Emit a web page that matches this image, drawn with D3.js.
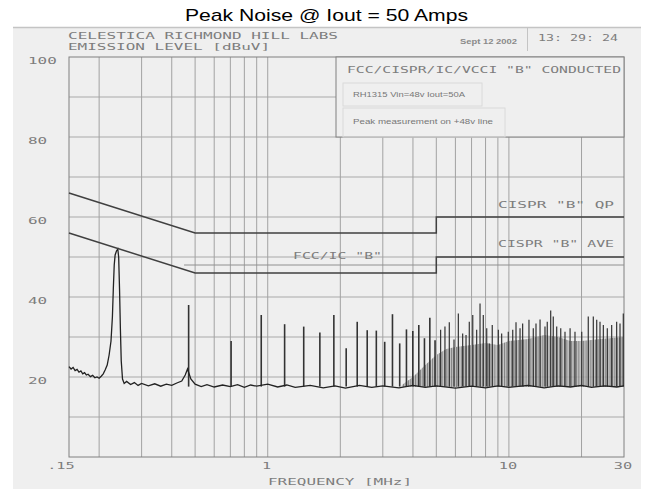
<!DOCTYPE html>
<html>
<head>
<meta charset="utf-8">
<script src="https://cdn.jsdelivr.net/npm/d3@7"></script>
<style>
  body { margin: 0; background: #fff; }
  svg { display: block; }
</style>
</head>
<body>
<div id="chart"></div>
<script>
// ---- data ----
var freqLabels = [".15", "1", "10", "30"];
var freqLabelAt = [0.15, 1, 10, 30];
var gridFreqs = [0.2, 0.3, 0.4, 0.5, 0.6, 0.7, 0.8, 0.9, 1, 2, 3, 4, 5, 6, 7, 8, 9, 10, 20];
var dbLabels = [100, 80, 60, 40, 20];
var gridDb = [10, 20, 30, 40, 50, 60, 70, 80, 90];

// CISPR "B" limits and FCC/IC "B"
var qpMHz = [0.15, 0.5, 5, 5, 30];
var qpDb = [66, 56, 56, 60, 60];
var aveMHz = [0.15, 0.5, 5, 5, 30];
var aveDb = [56, 46, 46, 50, 50];
var fccMHz = [0.45, 30];
var fccDb = [48, 48];

// measured trace: noise floor + fundamental at ~0.238 MHz
var traceMHz = [0.150, 0.153, 0.156, 0.159, 0.162, 0.165, 0.168, 0.171, 0.174, 0.177, 0.180, 0.184,
  0.188, 0.192, 0.196, 0.200, 0.204, 0.208, 0.212, 0.216, 0.220, 0.224, 0.227, 0.229, 0.231, 0.233,
  0.236, 0.239, 0.241, 0.243, 0.245, 0.247, 0.250, 0.254, 0.26, 0.27, 0.28, 0.29, 0.30, 0.32, 0.34,
  0.36, 0.38, 0.40, 0.42, 0.44, 0.455, 0.465, 0.48, 0.50, 0.53, 0.56, 0.60, 0.65, 0.70, 0.75, 0.80,
  0.85, 0.90, 1.0, 1.1, 1.2, 1.3, 1.5, 1.7, 1.9, 2.1, 2.4, 2.7, 3.0, 3.5, 4.0, 4.5, 5, 6, 7, 8, 9,
  10, 12, 14, 16, 18, 20, 22, 25, 28, 30];
var traceDb = [22.6, 22.0, 22.4, 21.6, 21.9, 21.2, 21.5, 20.8, 21.1, 20.5, 20.7, 20.1,
  20.4, 19.8, 20.0, 19.7, 20.2, 20.8, 21.8, 23.0, 25.5, 29.0, 35.0, 42.0, 48.0, 50.5,
  51.5, 52.0, 50.0, 42.0, 32.0, 24.0, 19.5, 18.4, 18.9, 18.1, 18.6, 17.9, 18.4, 17.8, 18.3,
  17.7, 18.2, 17.9, 18.5, 19.0, 20.5, 22.0, 19.5, 18.2, 17.6, 18.1, 17.5, 18.0, 17.6, 18.1, 17.4,
  18.0, 17.7, 18.2, 17.5, 18.0, 17.4, 17.9, 17.3, 17.8, 17.2, 17.9, 17.4, 17.8, 17.3, 17.9, 17.4, 17.8, 17.2, 17.7, 17.3, 17.8,
  17.4, 17.9, 17.3, 17.8, 17.5, 17.9, 17.4, 17.8, 17.5, 17.8];

// harmonic spikes
var spikeMHz = [0.47, 0.705, 0.94, 1.175, 1.41, 1.645, 1.88, 2.115, 2.35, 2.585, 2.82, 3.055, 3.29,
  3.525, 3.76, 3.995, 4.23, 4.465, 4.70, 4.94, 5.21, 5.43, 5.66, 5.92, 6.17, 6.43, 6.64, 6.85, 7.08,
  7.35, 7.59, 7.83, 8.09, 8.29, 8.53, 9.04, 9.33, 9.94, 10.37, 10.70, 11.12, 11.40, 12.11, 12.62,
  12.95, 13.46, 14.11, 14.42, 14.90, 15.27, 15.78, 16.40, 17.08, 17.93, 18.79, 20.04, 21.33, 22.38,
  23.12, 23.86, 24.63, 25.58, 26.67, 27.97, 28.88, 29.8];
var spikeDb = [38, 29, 35.5, 33.2, 32.6, 31.1, 35.5, 27.2, 33.8, 31.7, 31.6, 28.8, 35.7,
  28.4, 31.9, 31.5, 33, 29.7, 34.8, 29.2, 31.8, 32.6, 33.7, 29.4, 35.9, 30.9, 30.5, 33.8, 35.5,
  31.8, 38.4, 35.5, 32.2, 28.4, 33, 31.8, 30.9, 31.3, 31.8, 33.7, 32.2, 33.4, 34.3, 32.2,
  33.4, 34.4, 32.6, 33.8, 36.6, 35.1, 32.6, 32.2, 31.3, 32.2, 31.3, 31.3, 35.1, 35.1,
  34.3, 33.8, 33, 32.2, 33, 33.8, 33.4, 35.9];

// dense grey band of harmonics above ~4 MHz (upper edge)
var bandMHz = [3.6, 4, 4.5, 5, 5.5, 6, 7, 8, 9, 10, 12, 14, 16, 18, 20, 24, 30];
var bandDb = [18, 20, 23, 25.5, 27, 27.5, 28, 28.5, 28, 29, 29.5, 30.5, 30, 29, 29, 29.5, 30];
var bandFloorDb = 17.5;

// ---- layout ----
var W = 645, H = 489;
var plot = { left: 69, right: 624, top: 57, bottom: 457 };
var mono = "'DejaVu Sans Mono', 'Liberation Mono', monospace";
var ink = "#7d7d7d";

var svg = d3.select("#chart").append("svg")
  .attr("width", W).attr("height", H);

// stippled texture for the dense harmonics
var pat = svg.append("defs").append("pattern").attr("id", "dense")
  .attr("width", 2.4).attr("height", 4).attr("patternUnits", "userSpaceOnUse");
pat.append("rect").attr("width", 2.4).attr("height", 4).attr("fill", "#c2c2c2");
pat.append("rect").attr("width", 1).attr("height", 4).attr("fill", "#6a6a6a");

var x = d3.scaleLog().domain([0.15, 30]).range([plot.left, plot.right]);
var y = d3.scaleLinear().domain([0, 100]).range([plot.bottom, plot.top]);

// scanned paper
svg.append("rect").attr("x", 13).attr("y", 27).attr("width", 628).attr("height", H - 27)
  .attr("fill", "#efefef");
svg.append("line").attr("x1", 13).attr("x2", 641).attr("y1", 27.5).attr("y2", 27.5)
  .attr("stroke", "#c4c4c4").attr("stroke-width", 1.5);
svg.append("line").attr("x1", 527.5).attr("x2", 527.5).attr("y1", 28).attr("y2", 51)
  .attr("stroke", "#c4c4c4");

// title
svg.append("text").attr("x", 185).attr("y", 20.5)
  .attr("textLength", 283).attr("lengthAdjust", "spacingAndGlyphs")
  .style("font-family", "'Liberation Sans', Arial, sans-serif").style("font-size", "17px")
  .attr("fill", "#000").text("Peak Noise @ Iout = 50 Amps");

// header block
function monoText(tx, ty, str, len, size) {
  return svg.append("text").attr("x", tx).attr("y", ty)
    .attr("textLength", len).attr("lengthAdjust", "spacingAndGlyphs")
    .style("font-family", mono).style("font-size", (size || 9.5) + "px")
    .attr("fill", ink).text(str);
}
monoText(68, 38.5, "CELESTICA RICHMOND HILL LABS", 270);
monoText(68, 50, "EMISSION LEVEL [dBuV]", 202);
svg.append("text").attr("x", 460).attr("y", 43.5)
  .attr("textLength", 57).attr("lengthAdjust", "spacingAndGlyphs")
  .style("font-family", "'Liberation Sans', Arial, sans-serif").style("font-size", "7px")
  .style("font-weight", "bold").attr("fill", "#8a8a8a").text("Sept 12 2002");
monoText(538, 40.5, "13: 29: 24", 80);

// grid
var g = svg.append("g");
g.selectAll(".vg").data(gridFreqs).enter().append("line")
  .attr("x1", function (d) { return x(d); }).attr("x2", function (d) { return x(d); })
  .attr("y1", plot.top).attr("y2", plot.bottom)
  .attr("stroke", "#9a9a9a").attr("stroke-width", 0.9);
g.selectAll(".hg").data(gridDb).enter().append("line")
  .attr("x1", plot.left).attr("x2", plot.right)
  .attr("y1", function (d) { return y(d); }).attr("y2", function (d) { return y(d); })
  .attr("stroke", "#a2a2a2").attr("stroke-width", 0.9);
g.append("rect").attr("x", plot.left).attr("y", plot.top)
  .attr("width", plot.right - plot.left).attr("height", plot.bottom - plot.top)
  .attr("fill", "none").attr("stroke", "#808080").attr("stroke-width", 1);

// axis labels
svg.selectAll(".yl").data(dbLabels).enter().append("text")
  .attr("x", 28).attr("y", function (d) { return y(d) + 7; })
  .attr("textLength", function (d) { return String(d).length * 9.6; })
  .attr("lengthAdjust", "spacingAndGlyphs")
  .style("font-family", mono).style("font-size", "9.5px").attr("fill", ink)
  .text(function (d) { return d; });
svg.selectAll(".xl").data(freqLabelAt).enter().append("text")
  .attr("x", function (d, i) { return x(d) - (i === 0 ? 8 : 1); })
  .attr("y", 468.5).attr("text-anchor", "middle")
  .attr("textLength", function (d, i) { return freqLabels[i].length * 9.2; })
  .attr("lengthAdjust", "spacingAndGlyphs")
  .style("font-family", mono).style("font-size", "9.5px").attr("fill", ink)
  .text(function (d, i) { return freqLabels[i]; });
monoText(268, 485, "FREQUENCY [MHz]", 144);

// dense band
var band = bandMHz.map(function (f, i) { return [f, bandDb[i]]; });
svg.append("path").datum(band)
  .attr("d", d3.area()
    .x(function (d) { return x(d[0]); })
    .y0(y(bandFloorDb))
    .y1(function (d) { return y(d[1]); }))
  .attr("fill", "url(#dense)").attr("opacity", 0.85);

// harmonic spikes
svg.selectAll(".sp").data(spikeMHz).enter().append("line")
  .attr("x1", function (d) { return x(d); }).attr("x2", function (d) { return x(d); })
  .attr("y1", y(17.6)).attr("y2", function (d, i) { return y(spikeDb[i]); })
  .attr("stroke", "#333")
  .attr("stroke-width", function (d) { return d < 5 ? 1.6 : 1.2; });

// trace
var trace = traceMHz.map(function (f, i) { return [f, traceDb[i]]; });
svg.append("path").datum(trace)
  .attr("d", d3.line().x(function (d) { return x(d[0]); }).y(function (d) { return y(d[1]); }))
  .attr("fill", "none").attr("stroke", "#222").attr("stroke-width", 1.3);

// limit lines
function limit(fs, ds, w, col) {
  var pts = fs.map(function (f, i) { return [f, ds[i]]; });
  svg.append("path").datum(pts)
    .attr("d", d3.line().x(function (d) { return x(d[0]); }).y(function (d) { return y(d[1]); }))
    .attr("fill", "none").attr("stroke", col).attr("stroke-width", w);
}
limit(fccMHz, fccDb, 1, "#909090");
limit(qpMHz, qpDb, 1.5, "#404040");
limit(aveMHz, aveDb, 1.5, "#404040");

monoText(498, 208, "CISPR \"B\" QP", 116, 9);
monoText(498, 247, "CISPR \"B\" AVE", 116, 9);
monoText(293, 259, "FCC/IC \"B\"", 89, 9);

// annotation box (covers grid)
svg.append("rect").attr("x", 336).attr("y", plot.top)
  .attr("width", plot.right - 336).attr("height", y(80) - plot.top)
  .attr("fill", "#efefef").attr("stroke", "#808080").attr("stroke-width", 1);
svg.append("rect").attr("x", 343).attr("y", 83).attr("width", 139).attr("height", 23)
  .attr("fill", "none").attr("stroke", "#dadada");
svg.append("rect").attr("x", 343).attr("y", 108).attr("width", 162).attr("height", 29)
  .attr("fill", "none").attr("stroke", "#dadada");
monoText(347, 73, "FCC/CISPR/IC/VCCI \"B\" CONDUCTED", 274);
svg.append("text").attr("x", 353).attr("y", 97)
  .attr("textLength", 112).attr("lengthAdjust", "spacingAndGlyphs")
  .style("font-family", "'Liberation Sans', Arial, sans-serif").style("font-size", "7px")
  .attr("fill", "#777").text("RH1315 Vin=48v Iout=50A");
svg.append("text").attr("x", 353).attr("y", 124)
  .attr("textLength", 140).attr("lengthAdjust", "spacingAndGlyphs")
  .style("font-family", "'Liberation Sans', Arial, sans-serif").style("font-size", "7px")
  .attr("fill", "#777").text("Peak measurement on +48v line");
</script>
</body>
</html>
